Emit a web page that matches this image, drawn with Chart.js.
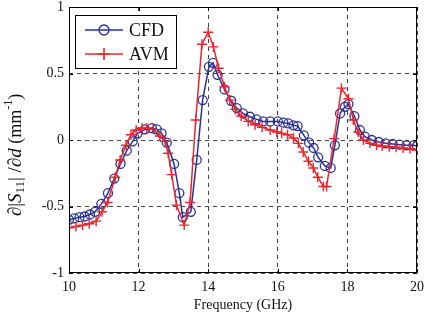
<!DOCTYPE html>
<html>
<head>
<meta charset="utf-8">
<script src="https://cdn.jsdelivr.net/npm/chart.js@4"></script>
<style>
  html, body { margin: 0; padding: 0; background: #fff; }
  #wrap { width: 425px; height: 321px; }
</style>
</head>
<body>
<div id="wrap"><canvas id="myChart"></canvas></div>
<script>
// values
const cfdFreq = [10.0, 10.15, 10.3, 10.45, 10.6, 10.75, 10.93, 11.12, 11.3, 11.48, 11.66, 11.83, 11.97,
  12.18, 12.38, 12.52, 12.66, 12.81, 13.02, 13.17, 13.27, 13.5, 13.67, 13.84, 14.02, 14.14, 14.27,
  14.47, 14.66, 14.82, 15.0, 15.2, 15.39, 15.58, 15.78, 16.0, 16.16, 16.3, 16.45, 16.57, 16.75,
  16.9, 17.03, 17.16, 17.35, 17.52, 17.64, 17.79, 17.93, 18.03, 18.2, 18.36, 18.5, 18.7, 18.9,
  19.1, 19.3, 19.5, 19.7, 19.9, 20.0];
const cfdVals = [-0.60, -0.59, -0.58, -0.575, -0.56, -0.54, -0.48, -0.40, -0.29, -0.18, -0.08, -0.01, 0.05,
  0.08, 0.09, 0.08, 0.05, -0.02, -0.18, -0.40, -0.58, -0.54, -0.15, 0.30, 0.55, 0.58, 0.49,
  0.38, 0.295, 0.24, 0.20, 0.175, 0.155, 0.14, 0.14, 0.14, 0.13, 0.125, 0.11, 0.105, 0.035,
  -0.02, -0.06, -0.13, -0.195, -0.21, -0.04, 0.20, 0.25, 0.27, 0.18, 0.075, 0.025, 0.0, -0.015,
  -0.025, -0.03, -0.035, -0.04, -0.04, -0.045];

const avmFreq = [10.0, 10.2, 10.39, 10.58, 10.78, 10.95, 11.11, 11.33, 11.47, 11.64, 11.78, 11.93,
  12.1, 12.23, 12.42, 12.61, 12.76, 12.85, 12.95, 13.09, 13.31, 13.48, 13.64, 13.82, 14.0, 14.15,
  14.3, 14.47, 14.62, 14.78, 14.95, 15.15, 15.35, 15.55, 15.78, 15.97, 16.11, 16.28, 16.45, 16.59,
  16.73, 16.88, 17.02, 17.15, 17.31, 17.4, 17.62, 17.83, 18.03, 18.17, 18.31, 18.46, 18.65, 18.84,
  19.0, 19.2, 19.4, 19.6, 19.8, 20.0];
const avmVals = [-0.66, -0.65, -0.64, -0.63, -0.61, -0.54, -0.47, -0.28, -0.15, -0.04, 0.04, 0.075,
  0.09, 0.09, 0.08, 0.03, -0.01, -0.10, -0.26, -0.49, -0.64, -0.47, 0.15, 0.72, 0.81, 0.70,
  0.54, 0.40, 0.30, 0.23, 0.18, 0.14, 0.115, 0.095, 0.075, 0.06, 0.05, 0.04, 0.015, -0.025,
  -0.09, -0.16, -0.21, -0.28, -0.35, -0.35, 0.01, 0.39, 0.31, 0.15, 0.06, 0.0, -0.025, -0.04,
  -0.045, -0.05, -0.055, -0.06, -0.065, -0.075];

const xTicks = [10, 12, 14, 16, 18, 20];
const yTicks = [-1, -0.5, 0, 0.5, 1];

const blue = "rgb(40, 50, 150)";
const red = "rgb(237, 36, 44)";
const serif = "'Liberation Serif', 'DejaVu Serif', serif";

const toPoints = (xs, ys) => xs.map((x, i) => ({ x: x, y: ys[i] }));

// box round the plot with small inward ticks
const framePlugin = {
  id: "frame",
  afterDatasetsDraw(chart) {
    const { ctx, chartArea: a, scales } = chart;
    ctx.save();
    ctx.strokeStyle = "#000";
    ctx.lineWidth = 1;
    ctx.strokeRect(a.left + 0.5, a.top + 0.5, a.right - a.left - 1, a.bottom - a.top - 1);
    ctx.beginPath();
    xTicks.forEach((t) => {
      const px = Math.round(scales.x.getPixelForValue(t)) + 0.5;
      ctx.moveTo(px, a.bottom); ctx.lineTo(px, a.bottom - 4);
      ctx.moveTo(px, a.top); ctx.lineTo(px, a.top + 4);
    });
    yTicks.forEach((t) => {
      const py = Math.round(scales.y.getPixelForValue(t)) + 0.5;
      ctx.moveTo(a.left, py); ctx.lineTo(a.left + 4, py);
      ctx.moveTo(a.right, py); ctx.lineTo(a.right - 4, py);
    });
    ctx.stroke();
    ctx.restore();
  },
};

// legend box inside the plot, like the MATLAB one
const legendPlugin = {
  id: "boxLegend",
  afterDraw(chart) {
    const { ctx, chartArea: a } = chart;
    const x0 = a.left + 6, y0 = a.top + 8, w = 101, h = 53;
    ctx.save();
    ctx.fillStyle = "#fff";
    ctx.fillRect(x0, y0, w, h);
    ctx.strokeStyle = "#000";
    ctx.lineWidth = 1;
    ctx.strokeRect(x0 + 0.5, y0 + 0.5, w, h);
    const rows = [
      { label: "CFD", color: blue, y: y0 + 15, mark: "circle" },
      { label: "AVM", color: red, y: y0 + 39, mark: "cross" },
    ];
    rows.forEach((r) => {
      ctx.strokeStyle = r.color;
      ctx.lineWidth = 1.6;
      ctx.beginPath();
      ctx.moveTo(x0 + 10, r.y); ctx.lineTo(x0 + 48, r.y);
      ctx.stroke();
      const cx = x0 + 29;
      ctx.beginPath();
      if (r.mark === "circle") {
        ctx.lineWidth = 1.4;
        ctx.arc(cx, r.y, 5, 0, Math.PI * 2);
      } else {
        ctx.moveTo(cx - 6, r.y); ctx.lineTo(cx + 6, r.y);
        ctx.moveTo(cx, r.y - 6); ctx.lineTo(cx, r.y + 6);
      }
      ctx.stroke();
      ctx.fillStyle = "#111";
      ctx.font = "18px " + serif;
      ctx.textBaseline = "middle";
      ctx.fillText(r.label, x0 + 54, r.y + 1);
    });
    ctx.restore();
  },
};

// y title with italic letters, subscript and superscript
const yTitlePlugin = {
  id: "yTitle",
  afterDraw(chart) {
    const { ctx, chartArea: a } = chart;
    const parts = [
      { t: "\u2202|", style: "", size: 19, dy: 0 },
      { t: "S", style: "italic ", size: 19, dy: 0 },
      { t: "11", style: "", size: 13, dy: 5 },
      { t: "| /\u2202", style: "", size: 19, dy: 0 },
      { t: "d", style: "italic ", size: 19, dy: 0 },
      { t: " (mm", style: "", size: 18, dy: 0 },
      { t: "-1", style: "", size: 12, dy: -7 },
      { t: ")", style: "", size: 18, dy: 0 },
    ];
    ctx.save();
    let total = 0;
    parts.forEach((p) => {
      ctx.font = p.style + p.size + "px " + serif;
      p.w = ctx.measureText(p.t).width;
      total += p.w;
    });
    ctx.translate(16, (a.top + a.bottom) / 2 + 15);
    ctx.rotate(-Math.PI / 2);
    ctx.fillStyle = "#111";
    ctx.textBaseline = "middle";
    let x = -total / 2;
    parts.forEach((p) => {
      ctx.font = p.style + p.size + "px " + serif;
      ctx.fillText(p.t, x, p.dy);
      x += p.w;
    });
    ctx.restore();
  },
};

new Chart(document.getElementById("myChart"), {
  type: "line",
  data: {
    datasets: [
      {
        label: "CFD",
        data: toPoints(cfdFreq, cfdVals),
        borderColor: blue,
        borderWidth: 1.5,
        pointStyle: "circle",
        pointRadius: 4.5,
        pointBorderWidth: 1.3,
        pointBackgroundColor: "rgba(0,0,0,0)",
        pointBorderColor: blue,
        tension: 0,
        order: 2,
      },
      {
        label: "AVM",
        data: toPoints(avmFreq, avmVals),
        borderColor: red,
        borderWidth: 1.5,
        pointStyle: "cross",
        pointRadius: 5,
        pointBorderWidth: 1.4,
        pointBorderColor: red,
        tension: 0,
        order: 1,
      },
    ],
  },
  options: {
    responsive: true,
    maintainAspectRatio: false,
    devicePixelRatio: 1,
    animation: false,
    layout: { padding: { top: 7, right: 8, left: 0, bottom: 0 } },
    plugins: {
      legend: { display: false },
      tooltip: { enabled: false },
    },
    scales: {
      x: {
        type: "linear",
        min: 10,
        max: 20,
        afterBuildTicks: (s) => { s.ticks = xTicks.map((v) => ({ value: v })); },
        ticks: { font: { family: serif, size: 14 }, color: "#111", padding: 6, maxRotation: 0 },
        grid: { color: "rgba(0,0,0,0.75)", drawTicks: false },
        border: { display: false, dash: [4, 4] },
        title: {
          display: true,
          text: "Frequency (GHz)",
          font: { family: serif, size: 14 },
          color: "#111",
          padding: { top: 2, bottom: 7 },
        },
        afterFit: (s) => { s.height = 48; s.paddingLeft = 0; s.paddingRight = 0; },
      },
      y: {
        min: -1,
        max: 1,
        afterBuildTicks: (s) => { s.ticks = yTicks.map((v) => ({ value: v })); },
        ticks: { font: { family: serif, size: 14 }, color: "#111", padding: 5, callback: (v) => String(v) },
        grid: { color: "rgba(0,0,0,0.75)", drawTicks: false },
        border: { display: false, dash: [4, 4] },
        afterFit: (s) => { s.width = 69; s.paddingTop = 0; s.paddingBottom = 0; },
      },
    },
  },
  plugins: [framePlugin, legendPlugin, yTitlePlugin],
});
</script>
</body>
</html>
